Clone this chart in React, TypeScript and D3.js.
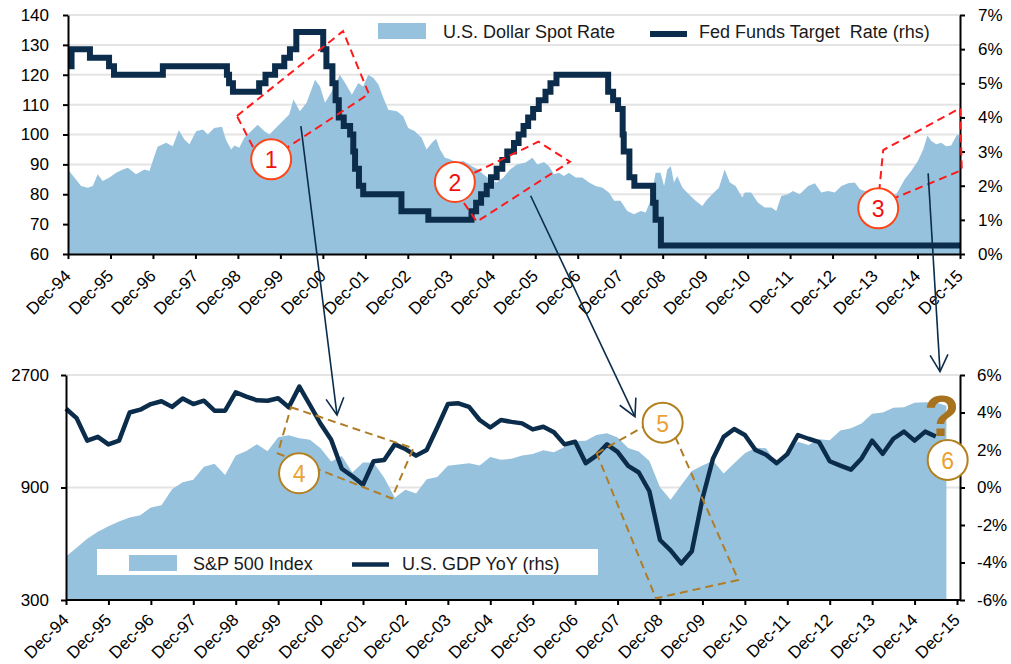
import { useEffect, useRef } from 'react';
import * as d3 from 'd3';

// x labels shared by both panels
const yearLabels = [
  'Dec-94', 'Dec-95', 'Dec-96', 'Dec-97', 'Dec-98', 'Dec-99', 'Dec-00', 'Dec-01',
  'Dec-02', 'Dec-03', 'Dec-04', 'Dec-05', 'Dec-06', 'Dec-07', 'Dec-08', 'Dec-09',
  'Dec-10', 'Dec-11', 'Dec-12', 'Dec-13', 'Dec-14', 'Dec-15',
];

// top panel: [months after Dec-94, value]
const usdSpot: [number, number][] = [
  [0, 88.3], [1.8, 85.6], [3.7, 82.8], [5.6, 82.2], [7.0, 82.8], [8.4, 86.7], [9.8, 84.4],
  [11.7, 85.6], [13.6, 87.2], [15.5, 88.3], [16.9, 88.9], [19.2, 86.7], [21.6, 88.3],
  [23.0, 87.8], [24.1, 91.7], [25.3, 95.9], [27.7, 97.2], [29.6, 96.1], [31.3, 101.4],
  [32.9, 98.3], [34.3, 96.7], [36.2, 101.1], [38.1, 101.7], [39.5, 100], [41.3, 102.2],
  [43.5, 102.6], [44.6, 98.3], [46.1, 95], [47.0, 96.3], [48.4, 95.6], [49.8, 98.9],
  [51.7, 101.1], [53.6, 103.3], [55.5, 101.1], [56.9, 100], [59.2, 102.8], [61.1, 105],
  [62.5, 106.7], [63.7, 111.7], [65.5, 107.8], [67.4, 110.6], [69.8, 118.3], [71.2, 116.1],
  [72.6, 110.6], [74.5, 114.4], [76.8, 120], [78.3, 117.2], [80.2, 113.3], [82.0, 117.2],
  [83.4, 116.1], [84.8, 120], [86.3, 118.9], [87.7, 116.7], [89.1, 112.2], [90.5, 108.3],
  [92.9, 107.8], [94.7, 106.1], [96.1, 102.2], [98.0, 101.1], [99.9, 98.9], [101.3, 95],
  [102.8, 97.2], [104.0, 98.6], [105.1, 95], [106.5, 92.2], [107.9, 91.7], [109.8, 90.6],
  [111.7, 91.1], [114.1, 89.4], [115.9, 88.3], [117.3, 86.7], [119.2, 85], [121.1, 83.9],
  [123.0, 85.6], [124.9, 88.3], [126.8, 90], [129.3, 90.6], [131.2, 92.2], [132.6, 90],
  [134.5, 90.8], [135.9, 89.4], [137.3, 86.7], [138.7, 87.2], [140.1, 86.1], [141.5, 87.2],
  [143.4, 85.6], [145.3, 85.6], [147.2, 83.9], [149.1, 82.8], [151.0, 82.2], [152.8, 80.6],
  [154.3, 77.8], [156.1, 77.8], [158.0, 74.4], [159.9, 73.3], [161.8, 74.4], [163.2, 73.9],
  [164.6, 78], [166.0, 87.2], [167.4, 87.2], [168.4, 82.8], [169.3, 88.3], [170.3, 89.4],
  [171.2, 83.9], [172.1, 86.1], [173.6, 82.2], [175.4, 80], [177.3, 77.8], [179.2, 76.1],
  [180.6, 78.3], [182.5, 80.6], [183.9, 82.2], [185.5, 88.3], [187.0, 83.9], [188.6, 82.8],
  [190.5, 78.9], [191.2, 80.6], [193.0, 80.6], [194.9, 77.2], [196.8, 75.6], [198.7, 75.6],
  [200.1, 74.4], [201.5, 79.4], [203.4, 80], [204.8, 81.1], [206.7, 80], [209.1, 82.8],
  [211.0, 83.7], [212.8, 80.6], [214.7, 81.1], [216.6, 80.6], [218.5, 82.8], [220.4, 83.7],
  [222.3, 83.9], [223.7, 81.7], [225.1, 81.1], [226.9, 81.1], [230.7, 80], [234.0, 80],
  [236.4, 85], [238.2, 87.8], [240.1, 91.1], [241.6, 95], [242.8, 99.7], [243.9, 97.8],
  [245.3, 96.7], [246.7, 97.2], [248.1, 96.1], [249.5, 96.3], [251.0, 99.7], [251.6, 100],
  [252, 98.5],
];

// fed funds target changes: [months after Dec-94, rate %]
const fedFunds: [number, number][] = [
  [0, 5.5], [1.0, 6.0], [6.2, 5.75], [11.6, 5.5], [13.0, 5.25], [26.8, 5.5], [44.9, 5.25],
  [45.5, 5.0], [46.6, 4.75], [54.0, 5.0], [55.8, 5.25], [58.5, 5.5], [61.1, 5.75], [62.7, 6.0],
  [64.5, 6.5], [72.1, 6.0], [73.0, 5.5], [74.7, 5.0], [75.6, 4.5], [76.5, 4.0], [77.9, 3.75],
  [79.7, 3.5], [80.6, 3.0], [81.1, 2.5], [82.2, 2.0], [83.4, 1.75], [94.2, 1.25], [101.8, 1.0],
  [114.0, 1.25], [115.3, 1.5], [116.7, 1.75], [118.3, 2.0], [119.5, 2.25], [121.1, 2.5],
  [122.7, 2.75], [124.1, 3.0], [126.0, 3.25], [127.3, 3.5], [128.7, 3.75], [130.0, 4.0],
  [131.4, 4.25], [133.0, 4.5], [134.9, 4.75], [136.3, 5.0], [138.0, 5.25], [152.6, 4.75],
  [154.0, 4.5], [155.4, 4.25], [156.7, 3.5], [157.0, 3.0], [158.6, 2.25], [160.0, 2.0],
  [165.3, 1.5], [166.0, 1.0], [167.5, 0.25], [252, 0.25],
];

// bottom panel: quarterly from Dec-94
const spx = [
  459, 500, 545, 584, 616, 645, 671, 687, 741, 757, 885, 947, 970, 1102, 1134, 1017, 1229,
  1286, 1373, 1283, 1469, 1499, 1455, 1436, 1320, 1160, 1224, 1041, 1148, 1147, 990, 815,
  880, 848, 975, 996, 1112, 1126, 1141, 1115, 1212, 1181, 1191, 1229, 1248, 1295, 1270,
  1336, 1418, 1421, 1503, 1527, 1468, 1323, 1280, 1166, 903, 798, 919, 1057, 1115, 1169,
  1031, 1141, 1258, 1326, 1321, 1131, 1258, 1408, 1362, 1441, 1426, 1569, 1606, 1682, 1848,
  1872, 1960, 1972, 2059, 2068, 2063, 2000,
];

const gdpYoY = [
  4.2, 3.7, 2.5, 2.7, 2.3, 2.5, 4.0, 4.15, 4.45, 4.6, 4.3, 4.75, 4.45, 4.63, 4.1, 4.1, 5.08,
  4.85, 4.65, 4.63, 4.76, 4.28, 5.38, 4.4, 3.4, 2.55, 1.0, 0.6, 0.15, 1.4, 1.47, 2.3, 2.05,
  1.7, 2.0, 3.2, 4.45, 4.49, 4.3, 3.6, 3.2, 3.6, 3.5, 3.42, 3.1, 3.24, 2.95, 2.3, 2.44, 1.3,
  1.7, 2.3, 1.9, 1.15, 0.8, -0.2, -2.8, -3.35, -4.05, -3.4, -0.6, 1.55, 2.7, 3.12, 2.8, 2.0,
  1.75, 1.3, 1.78, 2.8, 2.6, 2.42, 1.4, 1.17, 0.95, 1.55, 2.5, 1.8, 2.6, 2.98, 2.5, 2.98, 2.72,
];

const usdTicks = [60, 70, 80, 90, 100, 110, 120, 130, 140];
const fedTicks = [0, 1, 2, 3, 4, 5, 6, 7];
const spxTicks = [300, 900, 2700];
const gdpTicks = [-6, -4, -2, 0, 2, 4, 6];

// callouts, in data units of their panel
const topNotes = [
  { label: '1', at: [57.4, 91.7], box: [[47.7, 106.2], [77.7, 134.6], [85.0, 113.6], [54.8, 90.1]] },
  { label: '2', at: [109.3, 84.1], box: [[108.2, 83.4], [132.9, 97.6], [141.8, 90.9], [115.5, 70.8]] },
  { label: '3', at: [228.9, 75.3], box: [[228.8, 76.4], [230.3, 94.8], [252, 108.8], [252.5, 88.1]] },
];
const bottomNotes = [
  { label: '4', at: [21.97, 0.76], box: [[21.21, 4.28], [32.74, 2.09], [30.71, -0.58], [19.96, 1.82]] },
  { label: '5', at: [56.25, 3.46], box: [[50.03, 1.82], [56.5, 3.91], [63.38, -4.93], [55.62, -5.91]] },
  { label: '6', at: [83.12, 1.47], box: [] as number[][] },
];
// from top panel (month, usd) to bottom panel (quarter, gdp)
const arrows = [
  { from: [65.8, 102.8], to: [25.55, 3.87] },
  { from: [130.7, 79.5], to: [53.64, 3.78] },
  { from: [243.0, 87.0], to: [82.4, 6.18] },
];

const FONT = '"Liberation Sans", Arial, sans-serif';
const NAVY = '#0b2d4b';
const BLUE = '#97c2de';
const GRID = '#e4e4e4';

export default function App() {
  const svgRef = useRef<SVGSVGElement>(null);

  useEffect(() => {
    if (!svgRef.current) return;
    const svg = d3.select(svgRef.current);
    svg.selectAll('*').remove();

    // ---------- top panel ----------
    const xTop = d3.scaleLinear().domain([0, 252]).range([68, 960]);
    const yUsd = d3.scaleLinear().domain([60, 140]).range([254, 15]);
    const yFed = d3.scaleLinear().domain([0, 7]).range([254, 15]);

    usdTicks.slice(1).forEach(t => {
      svg.append('line')
        .attr('x1', 68).attr('x2', 960)
        .attr('y1', yUsd(t)).attr('y2', yUsd(t))
        .attr('stroke', GRID).attr('stroke-width', 2);
    });

    const usdArea = d3.area<[number, number]>()
      .x(d => xTop(d[0]))
      .y0(yUsd(60))
      .y1(d => yUsd(d[1]));
    svg.append('path').attr('d', usdArea(usdSpot) as string).attr('fill', BLUE);

    const fedLine = d3.line<[number, number]>()
      .x(d => xTop(d[0]))
      .y(d => yFed(d[1]))
      .curve(d3.curveStepAfter);
    svg.append('path')
      .attr('d', fedLine(fedFunds) as string)
      .attr('fill', 'none')
      .attr('stroke', NAVY)
      .attr('stroke-width', 6);

    const styleAxis = (g: d3.Selection<SVGGElement, unknown, null, undefined>) => {
      g.select('.domain').attr('stroke', '#000').attr('stroke-width', 2);
      g.selectAll('.tick line').attr('stroke', '#000').attr('stroke-width', 2);
      g.selectAll('.tick text')
        .attr('font-family', FONT).attr('font-size', 17).attr('fill', '#000');
    };

    svg.append('g').attr('transform', 'translate(68,0)')
      .call(d3.axisLeft(yUsd).tickValues(usdTicks).tickSize(5).tickSizeOuter(0).tickPadding(14))
      .call(styleAxis);
    svg.append('g').attr('transform', 'translate(960,0)')
      .call(d3.axisRight(yFed).tickValues(fedTicks).tickFormat(d => `${d}%`)
        .tickSize(5).tickSizeOuter(0).tickPadding(13))
      .call(styleAxis);

    const xTopAxis = svg.append('g').attr('transform', 'translate(0,254)')
      .call(d3.axisBottom(xTop).tickValues(d3.range(0, 253, 12)).tickSize(5).tickSizeOuter(0))
      .call(styleAxis);
    xTopAxis.selectAll('.tick text').remove();
    yearLabels.forEach((lab, i) => {
      svg.append('text')
        .attr('transform', `translate(${xTop(i * 12) + 4},277) rotate(-45)`)
        .attr('text-anchor', 'end')
        .attr('font-family', FONT).attr('font-size', 17).attr('fill', '#000')
        .text(lab);
    });

    // top legend
    svg.append('rect').attr('x', 378).attr('y', 23).attr('width', 48).attr('height', 16).attr('fill', BLUE);
    svg.append('text').attr('x', 443).attr('y', 32).attr('dominant-baseline', 'central')
      .attr('font-family', FONT).attr('font-size', 18).attr('fill', '#1a1a1a')
      .text('U.S. Dollar Spot Rate');
    svg.append('line').attr('x1', 650).attr('x2', 687).attr('y1', 34).attr('y2', 34)
      .attr('stroke', NAVY).attr('stroke-width', 6);
    svg.append('text').attr('x', 699).attr('y', 32).attr('dominant-baseline', 'central')
      .attr('font-family', FONT).attr('font-size', 18).attr('fill', '#1a1a1a')
      .style('white-space', 'pre')
      .text('Fed Funds Target  Rate (rhs)');

    // ---------- bottom panel ----------
    const xBot = d3.scaleLinear().domain([0, 84]).range([66, 957]);
    const ySpx = d3.scaleLog().domain([300, 2700]).range([600, 375]);
    const yGdp = d3.scaleLinear().domain([-6, 6]).range([600, 375]);

    [2700, 900].forEach(t => {
      svg.append('line')
        .attr('x1', 66).attr('x2', 960)
        .attr('y1', ySpx(t)).attr('y2', ySpx(t))
        .attr('stroke', GRID).attr('stroke-width', 2);
    });

    const spxArea = d3.area<number>()
      .x((_, i) => xBot(i))
      .y0(ySpx(300))
      .y1(d => ySpx(d));
    svg.append('path').attr('d', spxArea(spx) as string).attr('fill', BLUE);

    // bottom legend box sits on the area
    svg.append('rect').attr('x', 97).attr('y', 549).attr('width', 501).attr('height', 26).attr('fill', '#fff');
    svg.append('rect').attr('x', 129).attr('y', 555).attr('width', 48).attr('height', 16).attr('fill', BLUE);
    svg.append('text').attr('x', 193).attr('y', 564).attr('dominant-baseline', 'central')
      .attr('font-family', FONT).attr('font-size', 18).attr('fill', '#1a1a1a')
      .text('S&P 500 Index');
    svg.append('line').attr('x1', 352).attr('x2', 389).attr('y1', 564.5).attr('y2', 564.5)
      .attr('stroke', NAVY).attr('stroke-width', 4.5);
    svg.append('text').attr('x', 402).attr('y', 564).attr('dominant-baseline', 'central')
      .attr('font-family', FONT).attr('font-size', 18).attr('fill', '#1a1a1a')
      .text('U.S. GDP YoY (rhs)');

    const gdpLine = d3.line<number>()
      .x((_, i) => xBot(i))
      .y(d => yGdp(d));
    svg.append('path')
      .attr('d', gdpLine(gdpYoY) as string)
      .attr('fill', 'none')
      .attr('stroke', NAVY)
      .attr('stroke-width', 4.5)
      .attr('stroke-linejoin', 'round');

    svg.append('g').attr('transform', 'translate(66,0)')
      .call(d3.axisLeft(ySpx).tickValues(spxTicks).tickFormat(d => String(d))
        .tickSize(5).tickSizeOuter(0).tickPadding(12))
      .call(styleAxis);
    svg.append('g').attr('transform', 'translate(960,0)')
      .call(d3.axisRight(yGdp).tickValues(gdpTicks).tickFormat(d => `${d}%`)
        .tickSize(5).tickSizeOuter(0).tickPadding(12))
      .call(styleAxis);

    const xBotAxis = svg.append('g').attr('transform', 'translate(0,600)')
      .call(d3.axisBottom(xBot).tickValues(d3.range(0, 85, 4)).tickSize(5).tickSizeOuter(0))
      .call(styleAxis);
    xBotAxis.select('.domain').attr('d', 'M66,0H960');
    xBotAxis.selectAll('.tick text').remove();
    // the lowest labels run to the page edge, as in the source
    yearLabels.forEach((lab, i) => {
      svg.append('text')
        .attr('transform', `translate(${xBot(i * 4) + 4},621) rotate(-45)`)
        .attr('text-anchor', 'end')
        .attr('font-family', FONT).attr('font-size', 17).attr('fill', '#000')
        .text(lab);
    });

    // ---------- callouts ----------
    const drawNotes = (
      notes: { label: string; at: number[]; box: number[][] }[],
      px: (d: number[]) => [number, number],
      dash: string, ring: string, ink: string,
    ) => {
      notes.forEach(n => {
        if (n.box.length) {
          svg.append('path')
            .attr('d', 'M' + n.box.map(px).map(p => p.join(',')).join('L') + 'Z')
            .attr('fill', 'none').attr('stroke', dash)
            .attr('stroke-width', 2).attr('stroke-dasharray', '8,5');
        }
      });
      notes.forEach(n => {
        const [cx, cy] = px(n.at);
        svg.append('circle').attr('cx', cx).attr('cy', cy).attr('r', 20)
          .attr('fill', '#fff').attr('stroke', ring).attr('stroke-width', 2);
        svg.append('text').attr('x', cx).attr('y', cy + 1)
          .attr('text-anchor', 'middle').attr('dominant-baseline', 'central')
          .attr('font-family', FONT).attr('font-size', 23).attr('fill', ink)
          .text(n.label);
      });
    };
    drawNotes(topNotes, d => [xTop(d[0]), yUsd(d[1])], '#ff1a1a', '#ff4515', '#f01010');
    drawNotes(bottomNotes, d => [xBot(d[0]), yGdp(d[1])], '#b07d26', '#b3801f', '#e9a233');

    svg.append('text')
      .attr('x', xBot(82.56)).attr('y', yGdp(2.74))
      .attr('text-anchor', 'middle')
      .attr('font-family', FONT).attr('font-size', 58).attr('font-weight', 'bold')
      .attr('fill', '#a8731f')
      .text('?');

    arrows.forEach(a => {
      const [x1, y1] = [xTop(a.from[0]), yUsd(a.from[1])];
      const [x2, y2] = [xBot(a.to[0]), yGdp(a.to[1])];
      const ang = Math.atan2(y1 - y2, x1 - x2);
      const len = 19, spread = (28 * Math.PI) / 180;
      svg.append('line')
        .attr('x1', x1).attr('y1', y1).attr('x2', x2).attr('y2', y2)
        .attr('stroke', NAVY).attr('stroke-width', 1.6);
      svg.append('path')
        .attr('d', `M${x2 + len * Math.cos(ang - spread)},${y2 + len * Math.sin(ang - spread)}`
          + `L${x2},${y2}L${x2 + len * Math.cos(ang + spread)},${y2 + len * Math.sin(ang + spread)}`)
        .attr('fill', 'none').attr('stroke', NAVY).attr('stroke-width', 1.6);
    });
  }, []);

  return (
    <svg
      ref={svgRef}
      width={1011}
      height={664}
      style={{ position: 'absolute', left: 0, top: 0, background: '#fff' }}
    />
  );
}
